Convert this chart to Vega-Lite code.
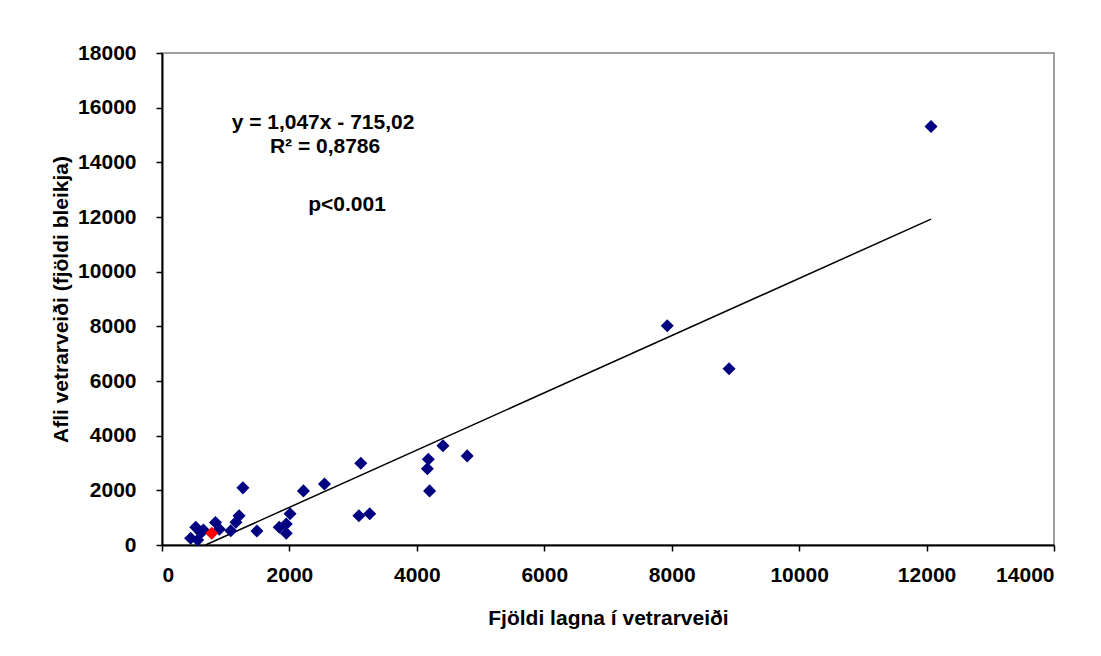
{
  "$schema": "https://vega.github.io/schema/vega-lite/v6.json",
  "width": 892,
  "height": 492,
  "autosize": {"type": "none"},
  "padding": {"left": 162, "top": 53, "right": 47, "bottom": 111},
  "background": "white",
  "datasets": {
    "points": [
      {"lagnir": 450, "afli": 245, "hopur": "a"},
      {"lagnir": 530, "afli": 650, "hopur": "a"},
      {"lagnir": 560, "afli": 180, "hopur": "a"},
      {"lagnir": 610, "afli": 450, "hopur": "a"},
      {"lagnir": 650, "afli": 550, "hopur": "a"},
      {"lagnir": 840, "afli": 820, "hopur": "a"},
      {"lagnir": 900, "afli": 580, "hopur": "a"},
      {"lagnir": 1080, "afli": 520, "hopur": "a"},
      {"lagnir": 1160, "afli": 830, "hopur": "a"},
      {"lagnir": 1210, "afli": 1070, "hopur": "a"},
      {"lagnir": 1270, "afli": 2090, "hopur": "a"},
      {"lagnir": 1490, "afli": 510, "hopur": "a"},
      {"lagnir": 1840, "afli": 650, "hopur": "a"},
      {"lagnir": 1950, "afli": 770, "hopur": "a"},
      {"lagnir": 1950, "afli": 430, "hopur": "a"},
      {"lagnir": 2010, "afli": 1140, "hopur": "a"},
      {"lagnir": 2220, "afli": 1980, "hopur": "a"},
      {"lagnir": 2550, "afli": 2230, "hopur": "a"},
      {"lagnir": 3120, "afli": 2990, "hopur": "a"},
      {"lagnir": 3090, "afli": 1070, "hopur": "a"},
      {"lagnir": 3260, "afli": 1140, "hopur": "a"},
      {"lagnir": 4180, "afli": 3140, "hopur": "a"},
      {"lagnir": 4165, "afli": 2790, "hopur": "a"},
      {"lagnir": 4200, "afli": 1980, "hopur": "a"},
      {"lagnir": 4410, "afli": 3630, "hopur": "a"},
      {"lagnir": 4790, "afli": 3260, "hopur": "a"},
      {"lagnir": 7930, "afli": 8020, "hopur": "a"},
      {"lagnir": 8900, "afli": 6450, "hopur": "a"},
      {"lagnir": 12070, "afli": 15310, "hopur": "a"},
      {"lagnir": 780, "afli": 430, "hopur": "b"}
    ],
    "trend": [
      {"lagnir": 683, "afli": 0},
      {"lagnir": 12070, "afli": 11922}
    ],
    "notes": [
      {"lagnir": 2527, "afli": 15441, "texti": "y = 1,047x  - 715,02"},
      {"lagnir": 2559, "afli": 14563, "texti": "R² = 0,8786"},
      {"lagnir": 2904, "afli": 12441, "texti": "p<0.001"}
    ]
  },
  "encoding": {
    "x": {
      "field": "lagnir",
      "type": "quantitative",
      "scale": {"domain": [0, 14000], "nice": false},
      "axis": {
        "title": "Fjöldi lagna í vetrarveiði",
        "values": [0, 2000, 4000, 6000, 8000, 10000, 12000, 14000],
        "format": "d",
        "labelPadding": 13,
        "titlePadding": 22
      }
    },
    "y": {
      "field": "afli",
      "type": "quantitative",
      "scale": {"domain": [0, 18000], "nice": false},
      "axis": {
        "title": "Afli vetrarveiði (fjöldi bleikja)",
        "values": [0, 2000, 4000, 6000, 8000, 10000, 12000, 14000, 16000, 18000],
        "format": "d",
        "labelPadding": 20,
        "titlePadding": 6
      }
    }
  },
  "layer": [
    {
      "data": {"name": "trend"},
      "mark": {"type": "line", "color": "black", "strokeWidth": 1.5},
      "encoding": {}
    },
    {
      "data": {"name": "points"},
      "mark": {"type": "point", "shape": "diamond", "filled": true, "opacity": 1, "size": 170},
      "encoding": {
        "color": {
          "field": "hopur",
          "type": "nominal",
          "scale": {"domain": ["a", "b"], "range": ["#000080", "#FF0000"]},
          "legend": null
        }
      }
    },
    {
      "data": {"name": "notes"},
      "mark": {"type": "text", "font": "Liberation Sans", "fontSize": 21, "fontWeight": "bold", "color": "black", "align": "center", "baseline": "middle"},
      "encoding": {"text": {"field": "texti"}}
    }
  ],
  "config": {
    "view": {"stroke": "#808080", "strokeWidth": 1.5},
    "axis": {
      "grid": false,
      "domainColor": "black",
      "domainWidth": 2,
      "tickColor": "black",
      "tickWidth": 1.5,
      "tickSize": 6,
      "labelFont": "Liberation Sans",
      "labelFontSize": 21,
      "labelFontWeight": "bold",
      "labelColor": "black",
      "titleFont": "Liberation Sans",
      "titleFontSize": 21,
      "titleFontWeight": "bold",
      "titleColor": "black"
    }
  }
}
